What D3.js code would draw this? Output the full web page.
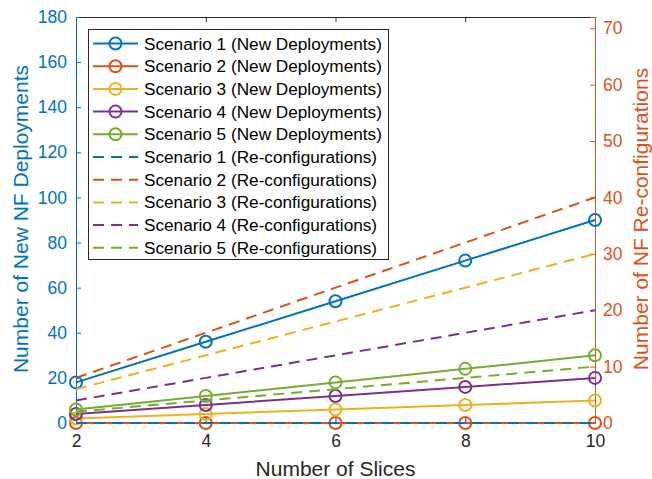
<!DOCTYPE html>
<html><head><meta charset="utf-8">
<script src="https://cdn.jsdelivr.net/npm/d3@7"></script>
<style>body{margin:0;background:#fff;} text{font-family:"Liberation Sans",Arial,sans-serif;}</style>
</head><body>
<svg id="c" width="652" height="479"></svg>
<script>
const slices = [2, 4, 6, 8, 10];
const newDeploy = {
  s1: [18, 36, 54, 72, 90],
  s2: [0, 0, 0, 0, 0],
  s3: [2, 4, 6, 8, 10],
  s4: [4, 8, 12, 16, 20],
  s5: [6, 12, 18, 24, 30]
};
const reconf = {
  s1: [0, 0, 0, 0, 0],
  s2: [8, 16, 24, 32, 40],
  s3: [6, 12, 18, 24, 30],
  s4: [4, 8, 12, 16, 20],
  s5: [2, 4, 6, 8, 10]
};
const leftTicks = [0, 20, 40, 60, 80, 100, 120, 140, 160, 180];
const rightTicks = [0, 10, 20, 30, 40, 50, 60, 70];
const xTicks = [2, 4, 6, 8, 10];
const colors = ["#0072BD", "#D95319", "#EDB120", "#7E2F8E", "#77AC30"];
const keys = ["s1", "s2", "s3", "s4", "s5"];

const svg = d3.select("#c");
const L = 76, R = 595, T = 17, B = 423;
const x = d3.scaleLinear().domain([2, 10]).range([L, R]);
const yL = d3.scaleLinear().domain([0, 180]).range([B, T]);
const yR = d3.scaleLinear().domain([0, 72]).range([B, T]);

const axisDark = "#262626";
const gx = svg.append("g").attr("transform", `translate(0,${B})`)
  .call(d3.axisBottom(x).tickValues(xTicks).tickSize(-5).tickPadding(12).tickFormat(d3.format("d")));
const gxt = svg.append("g").attr("transform", `translate(0,${T})`)
  .call(d3.axisTop(x).tickValues(xTicks).tickSize(-5).tickFormat(""));
[gx, gxt].forEach(g => {
  g.select(".domain").attr("stroke", axisDark).attr("stroke-width", 1);
  g.selectAll(".tick line").attr("stroke", axisDark);
  g.selectAll(".tick text").attr("fill", axisDark).style("font-size", "17.5px").style("font-family", "Liberation Sans, Arial, sans-serif");
});

const gl = svg.append("g").attr("transform", `translate(${L},0)`)
  .call(d3.axisLeft(yL).tickValues(leftTicks).tickSize(-5).tickPadding(9));
gl.select(".domain").attr("stroke", colors[0]).attr("stroke-width", 1);
gl.selectAll(".tick line").attr("stroke", colors[0]);
gl.selectAll(".tick text").attr("fill", colors[0]).style("font-size", "17.5px").style("font-family", "Liberation Sans, Arial, sans-serif");

const gr = svg.append("g").attr("transform", `translate(${R},0)`)
  .call(d3.axisRight(yR).tickValues(rightTicks).tickSize(-5).tickPadding(8));
gr.select(".domain").attr("stroke", colors[1]).attr("stroke-width", 1);
gr.selectAll(".tick line").attr("stroke", colors[1]);
gr.selectAll(".tick text").attr("fill", colors[1]).style("font-size", "17.5px").style("font-family", "Liberation Sans, Arial, sans-serif");

svg.append("text").attr("x", (L + R) / 2).attr("y", 476).attr("text-anchor", "middle")
  .style("font-size", "21px").attr("fill", axisDark).text("Number of Slices");
svg.append("text").attr("transform", `translate(28,219) rotate(-90)`).attr("text-anchor", "middle")
  .style("font-size", "21px").attr("fill", colors[0]).text("Number of New NF Deployments");
svg.append("text").attr("transform", `translate(648,219) rotate(-90)`).attr("text-anchor", "middle")
  .style("font-size", "21px").attr("fill", colors[1]).text("Number of NF Re-configurations");

const lineL = d3.line().x((d, i) => x(slices[i])).y(d => yL(d));
const lineR = d3.line().x((d, i) => x(slices[i])).y(d => yR(d));
keys.forEach((k, j) => {
  svg.append("path").datum(newDeploy[k]).attr("d", lineL).attr("fill", "none")
    .attr("stroke", colors[j]).attr("stroke-width", 2);
  svg.selectAll(null).data(newDeploy[k]).enter().append("circle")
    .attr("cx", (d, i) => x(slices[i])).attr("cy", d => yL(d)).attr("r", 6)
    .attr("fill", "none").attr("stroke", colors[j]).attr("stroke-width", 2);
});
keys.forEach((k, j) => {
  svg.append("path").datum(reconf[k]).attr("d", lineR).attr("fill", "none")
    .attr("stroke", colors[j]).attr("stroke-width", 2).attr("stroke-dasharray", "11,7");
});

const lg = svg.append("g");
lg.append("rect").attr("x", 88.5).attr("y", 29.5).attr("width", 300).attr("height", 230)
  .attr("fill", "#fff").attr("stroke", axisDark).attr("stroke-width", 1);
const entries = [];
keys.forEach((k, j) => entries.push({ label: `Scenario ${j + 1} (New Deployments)`, c: colors[j], dash: false }));
keys.forEach((k, j) => entries.push({ label: `Scenario ${j + 1} (Re-configurations)`, c: colors[j], dash: true }));
entries.forEach((e, i) => {
  const yy = 43.5 + i * 22.7;
  lg.append("line").attr("x1", 93).attr("x2", 138).attr("y1", yy).attr("y2", yy)
    .attr("stroke", e.c).attr("stroke-width", 2).attr("stroke-dasharray", e.dash ? "11,7" : null);
  if (!e.dash) lg.append("circle").attr("cx", 115.5).attr("cy", yy).attr("r", 6)
    .attr("fill", "none").attr("stroke", e.c).attr("stroke-width", 2);
  lg.append("text").attr("x", 144).attr("y", yy + 6).style("font-size", "17.2px").attr("fill", "#000").text(e.label);
});
</script>
</body></html>
